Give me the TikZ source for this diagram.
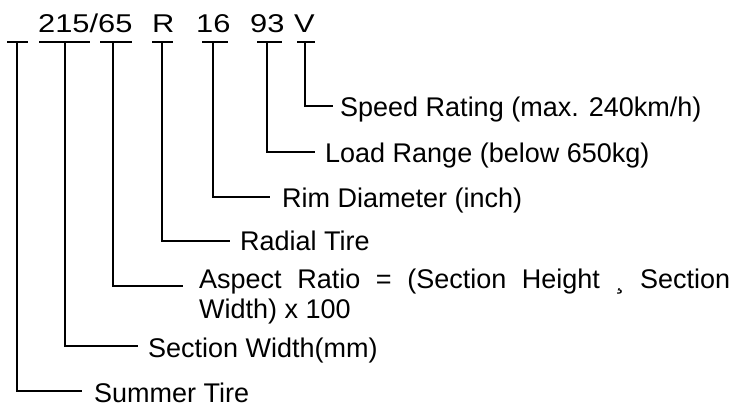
\documentclass[tikz,border=0pt]{standalone}
\usepackage{fontspec}
\setmainfont{Liberation Sans}
\begin{document}
\begin{tikzpicture}[x=1pt,y=-1pt,
  lbl/.style={anchor=base west,inner sep=0pt,font=\fontsize{27}{30}\selectfont},
  code/.style={anchor=base west,inner sep=0pt,font=\fontsize{25.7}{30}\selectfont},
  wire/.style={line width=2pt,line join=miter}]
\useasboundingbox (0,0) rectangle (744,408);
\def\wide#1{\scalebox{1.2}[1]{#1}}
% code string
\node[code] (size) at (38,32) {\wide{215/65}};
\node[code] (rad) at (152,32) {\wide{R}};
\node[code] (rim) at (196,32) {\wide{16}};
\node[code] (load) at (250,32) {\wide{93}};
\node[code] (spd) at (294,32) {\wide{V}};
% bars under code, with the point where each stem leaves
\foreach \n/\a/\b/\v in {1/7/28/17, 2/39/90/65, 3/100/132/113, 4/152/173/162, 5/202/228/213, 6/257/282/267, 7/297/315/305}{
  \coordinate (bl\n) at (\a,41.7);
  \coordinate (br\n) at (\b,41.7);
  \coordinate (s\n) at (\v,41.7);
  \draw[wire] (bl\n) -- (br\n);
}
% labels
\node[lbl] (tspd) at (340,116) {Speed Rating (max. 240km/h)};
\node[lbl] (tload) at (325,162) {Load Range (below 650kg)};
\node[lbl] (trim) at (282,207) {Rim Diameter (inch)};
\node[lbl] (trad) at (240,250) {Radial Tire};
\node[lbl] (tasp) at (199,288) {\makebox[531pt][s]{Aspect Ratio = (Section Height ¸ Section}};
\node[lbl] (tasp2) at (199,318) {Width) x 100};
\node[lbl] (tsec) at (148,357) {Section Width(mm)};
\node[lbl] (tsum) at (94,402) {Summer Tire};
% connector ends
\coordinate (e7) at (333,106);
\coordinate (e6) at (315,152);
\coordinate (e5) at (270,196.5);
\coordinate (e4) at (230,241);
\coordinate (e3) at (183,286);
\coordinate (e2) at (138,346);
\coordinate (e1) at (82,391);
\foreach \n in {1,...,7}{\draw[wire] (s\n) |- (e\n);}
\end{tikzpicture}
\end{document}
